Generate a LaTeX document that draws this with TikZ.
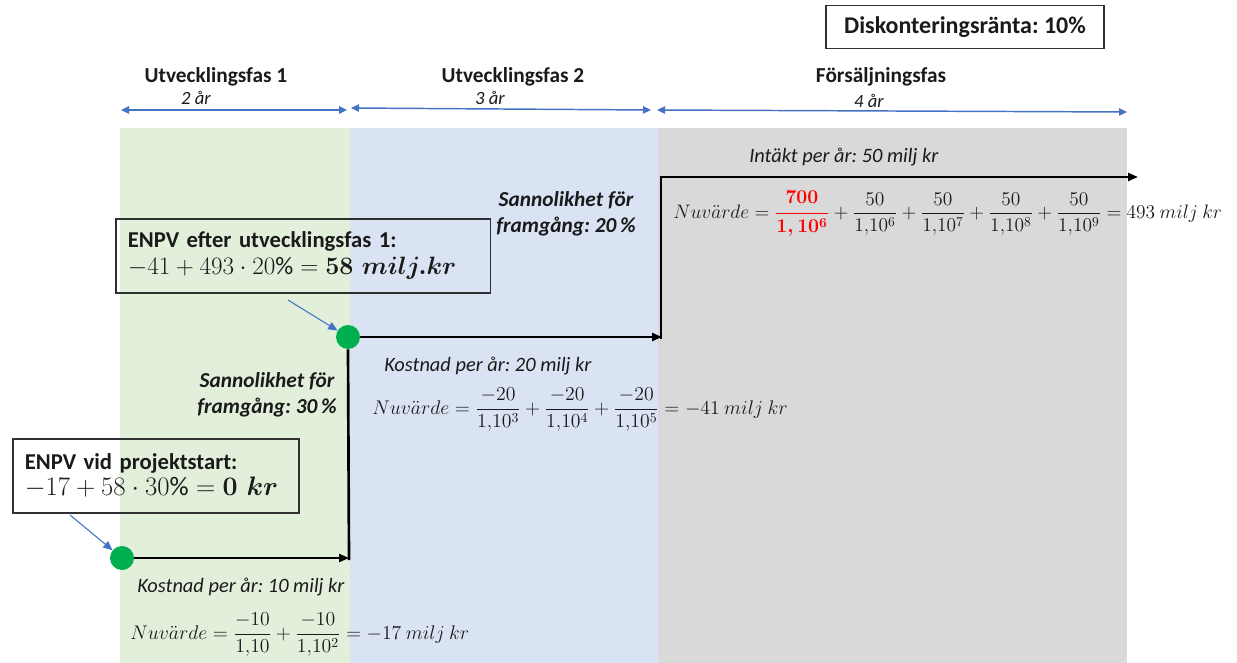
\documentclass[tikz,border=0pt]{standalone}
\usepackage{amsmath}
\usepackage{fontspec}
\setmainfont{Carlito}
\usetikzlibrary{arrows.meta}
\definecolor{pgreen}{HTML}{E2EFDA}
\definecolor{pblue}{HTML}{DAE3F3}
\definecolor{pgrey}{HTML}{D9D9D9}
\definecolor{dotgreen}{HTML}{00B050}
\definecolor{arrblue}{HTML}{4472C4}
\definecolor{boxgrey}{HTML}{303030}
\definecolor{txt}{HTML}{1A1A1A}
\newcommand{\dk}{{,}}
\frenchspacing
\begin{document}
\begin{tikzpicture}[x=0.75pt,y=-0.75pt,
  main/.style={line width=2pt, black},
  tip/.style={-{Triangle[length=7.5pt,width=6pt]}},
  span/.style={arrblue, line width=1.1pt, {Triangle[length=6pt,width=5.5pt]}-{Triangle[length=6pt,width=5.5pt]}},
  dot/.style={circle, fill=dotgreen, minimum size=18pt, inner sep=0pt},
  head/.style={font=\fontsize{16}{19}\selectfont\bfseries, text=txt, inner sep=0pt},
  dur/.style={font=\fontsize{14}{17}\selectfont\itshape, text=txt, inner sep=0pt},
  lbl/.style={font=\fontsize{15.3}{18}\selectfont\itshape, anchor=west, inner sep=0pt, text=txt},
  prob/.style={font=\fontsize{16}{19.5}\selectfont\bfseries\itshape, align=center, inner sep=0pt, text=txt},
  frm/.style={anchor=west, inner sep=0pt, font=\fontsize{14.4}{17}\selectfont, text=txt},
  enpv/.style={draw=boxgrey, line width=1.2pt, anchor=north west, inner xsep=9pt, inner ysep=0pt,
     align=left, font=\fontsize{17}{20}\selectfont, text=txt},
  pointer/.style={arrblue, line width=0.8pt, -{Triangle[length=7pt,width=6pt]}}
]
\useasboundingbox (0,0) rectangle (1237,663);
% phase backgrounds
\fill[pgreen] (120,128) rectangle (350,663);
\fill[pblue] (350,128) rectangle (658,663);
\fill[pgrey] (658,128) rectangle (1127,663);

% discount rate box
\node[draw=boxgrey, line width=1.2pt, minimum width=208.5pt, minimum height=32pt, inner sep=0pt,
      font=\fontsize{18}{21}\selectfont\bfseries, text=txt] (rate) at (965,27) {Diskonteringsränta: 10\%};

% phase spans
\coordinate (s1a) at (121,110); \coordinate (s1b) at (347,110);
\coordinate (s2a) at (351,108); \coordinate (s2b) at (651,110);
\coordinate (s3a) at (657,110); \coordinate (s3b) at (1127,112);
\draw[span] (s1a) -- (s1b);
\draw[span] (s2a) -- (s2b);
\draw[span] (s3a) -- (s3b);
\node[head] (h1) at (216,77) {Utvecklingsfas 1};
\node[dur]  (y1) at (196,98) {2 år};
\node[head] (h2) at (513,77) {Utvecklingsfas 2};
\node[dur]  (y2) at (490,98) {3 år};
\node[head] (h3) at (881,77) {Försäljningsfas};
\node[dur]  (y3) at (869,101) {4 år};

% main path
\node[dot] (d1) at (122,558) {};
\node[dot] (d2) at (348,337) {};
\coordinate (a1) at (349,558);
\coordinate (a1b) at (349,560);
\coordinate (a2) at (662,337);
\coordinate (a3) at (661,339);
\coordinate (a4) at (661,177);
\coordinate (a5) at (1138,177);
\draw[main,tip] (d1) -- (a1);
\draw[main] (a1b) -- (d2.south);
\draw[main,tip] (d2) -- (a2);
\draw[main,tip] (a3) -- (a4) -- (a5);

% texts, sales phase
\node[lbl] (inc) at (749,157) {Intäkt per år: 50 milj kr};
\node[frm] (f3) at (673,214) {\scalebox{1.013}{$Nuv\ddot{a}rde=\textcolor{red}{\boldsymbol{\dfrac{700}{1,10^6}}}+\dfrac{50}{1\dk10^6}+\dfrac{50}{1\dk10^7}+\dfrac{50}{1\dk10^8}+\dfrac{50}{1\dk10^9}=493\ milj\ kr$}};
\node[prob] (p2) at (566,214) {Sannolikhet för\\framgång: 20\,\%};

% phase 2 texts
\node[lbl] (c2) at (384,366) {Kostnad per år: 20 milj kr};
\node[frm] (f2) at (372,410) {\scalebox{1.03}{$Nuv\ddot{a}rde=\dfrac{-20}{1\dk10^3}+\dfrac{-20}{1\dk10^4}+\dfrac{-20}{1\dk10^5}=-41\ milj\ kr$}};

% phase 1 texts
\node[prob] (p1) at (267,395) {Sannolikhet för\\framgång: 30\,\%};
\node[lbl] (c1) at (137,587) {Kostnad per år: 10 milj kr};
\node[frm] (f1) at (130,635) {\scalebox{1.03}{$Nuv\ddot{a}rde=\dfrac{-10}{1\dk10}+\dfrac{-10}{1\dk10^2}=-17\ milj\ kr$}};

% ENPV boxes
\node[enpv, minimum width=281pt, minimum height=55.5pt, text width=263pt] (e1) at (115,218)
  {\bfseries ENPV efter utvecklingsfas 1:\\ \fontsize{17.28}{20}\selectfont\scalebox{1.09}{$-41+493\cdot20\%=\boldsymbol{58\ milj.kr}$}};
\node[enpv, minimum width=214.5pt, minimum height=55.5pt, text width=196.5pt] (e0) at (12,438)
  {\bfseries ENPV vid projektstart:\\ \fontsize{17.28}{20}\selectfont\scalebox{1.16}{$-17+58\cdot30\%=\boldsymbol{0\ kr}$}};
\coordinate (q1) at (288,300);
\coordinate (q0) at (70,515);
\draw[pointer] (q1) -- (d2);
\draw[pointer] (q0) -- (d1);
\end{tikzpicture}
\end{document}
